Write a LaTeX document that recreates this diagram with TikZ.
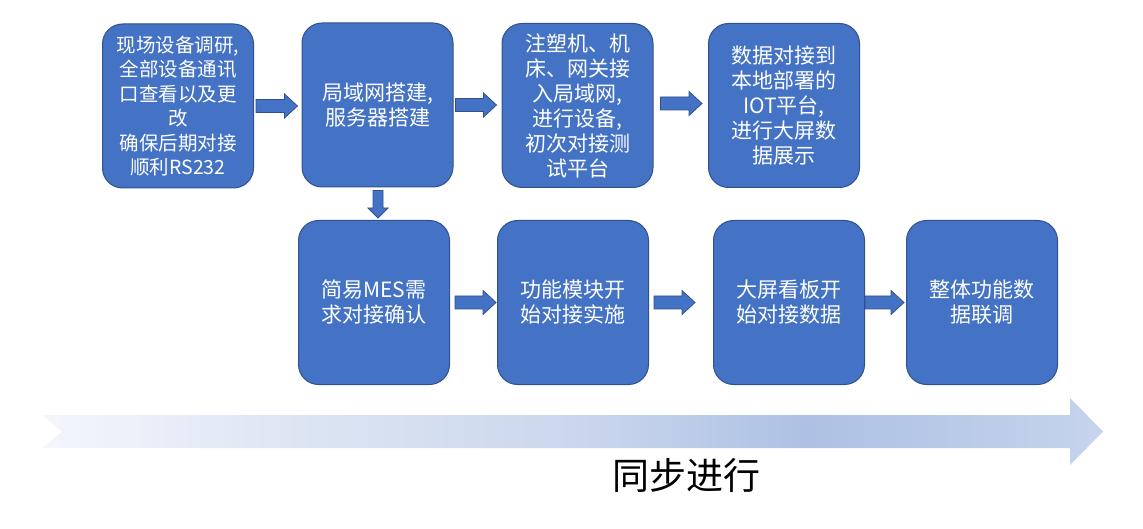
\documentclass[tikz,border=0pt]{standalone}
\usepackage{fontspec}
\newfontfamily\cjk{Noto Sans CJK SC}
\usetikzlibrary{calc}
\definecolor{boxblue}{HTML}{4472C4}
\definecolor{boxborder}{HTML}{2F528F}
\definecolor{ga}{HTML}{F3F6FC}
\definecolor{gb}{HTML}{DDE5F3}
\definecolor{gc}{HTML}{CBD7ED}
\definecolor{gd}{HTML}{ADC1E4}
\definecolor{ge}{HTML}{B9CAE8}
\definecolor{gf}{HTML}{C6D4EC}
\pgfdeclarehorizontalshading{bigshade}{100bp}{color(0bp)=(ga); color(25bp)=(ga); color(37bp)=(gb); color(50bp)=(gc); color(61bp)=(gd); color(68bp)=(ge); color(75bp)=(gf); color(100bp)=(gf)}
\tikzset{
  box/.style={rectangle, rounded corners=20pt, fill=boxblue, draw=boxborder, line width=1pt,
    minimum width=151pt, minimum height=164pt, inner sep=0pt, align=center, text=white,
    font=\cjk\fontsize{21}{25}\selectfont},
  blockarrow/.style={fill=boxblue, draw=boxborder, line width=0.8pt, line join=miter},
}
% horizontal block arrow from #1 to #2 (named coordinates / node anchors)
\newcommand\hblock[2]{%
  \path[blockarrow] let \p1=(#1), \p2=(#2) in
    (\x1,\y1+6.5pt) -- (\x2-13pt,\y1+6.5pt) -- (\x2-13pt,\y1+12pt) -- (\x2,\y1)
    -- (\x2-13pt,\y1-12pt) -- (\x2-13pt,\y1-6.5pt) -- (\x1,\y1-6.5pt) -- cycle;}
% downward block arrow from #1 to #2
\newcommand\vblock[2]{%
  \path[blockarrow] let \p1=(#1), \p2=(#2) in
    (\x1-5pt,\y1) -- (\x1-5pt,\y2+10pt) -- (\x1-10pt,\y2+10pt) -- (\x1,\y2)
    -- (\x1+10pt,\y2+10pt) -- (\x1+5pt,\y2+10pt) -- (\x1+5pt,\y1) -- cycle;}
\begin{document}
\begin{tikzpicture}[x=1pt,y=-1pt]
\useasboundingbox (0,0) rectangle (1143,529);
% top row
\node[box, font=\cjk\fontsize{19.5}{24.5}\selectfont] (b1) at (178,106) {现场设备调研,\\全部设备通讯\\口查看以及更\\改\\确保后期对接\\顺利RS232};
\node[box] (b2) at (377.5,105) {局域网搭建,\\服务器搭建};
\node[box] (b3) at (577.5,105.5) {注塑机、机\\床、网关接\\入局域网,\\进行设备,\\初次对接测\\试平台};
\node[box] (b4) at (784,105.5) {数据对接到\\本地部署的\\IOT平台,\\进行大屏数\\据展示};
% bottom row
\node[box] (b5) at (374,302.5) {简易MES需\\求对接确认};
\node[box] (b6) at (573,302.5) {功能模块开\\始对接实施};
\node[box] (b7) at (789,302.5) {大屏看板开\\始对接数据};
\node[box] (b8) at (982,302.5) {整体功能数\\据联调};
% connectors
\hblock{$(b1.east)+(2,0)$}{$(b2.west)+(-4,0)$}
\hblock{$(b2.east)+(2,0)$}{$(b3.west)+(-5,0)$}
\hblock{$(b3.east)+(7,-2)$}{$(b4.west)+(-6,-2)$}
\vblock{$(b2.south)+(0.5,3)$}{$(b2.south |- b5.north)+(0.5,-2)$}
\hblock{$(b5.east)+(5,0)$}{$(b6.west)+(-1,0)$}
\hblock{$(b6.east)+(5,0)$}{$(b7.west)+(-18,0)$}
\hblock{$(b7.east)+(0,0)$}{$(b8.west)+(-2,0)$}
% big progress arrow
\path[shading=bigshade] (42,415) -- (1070,415) -- (1070,398) -- (1103,431.5) -- (1070,465)
  -- (1070,448) -- (42,448) -- (62,431.5) -- cycle;
\node[font=\cjk\fontsize{37}{40}\selectfont, text=black, inner sep=0pt] (lbl) at (686,475) {同步进行};
\end{tikzpicture}
\end{document}
